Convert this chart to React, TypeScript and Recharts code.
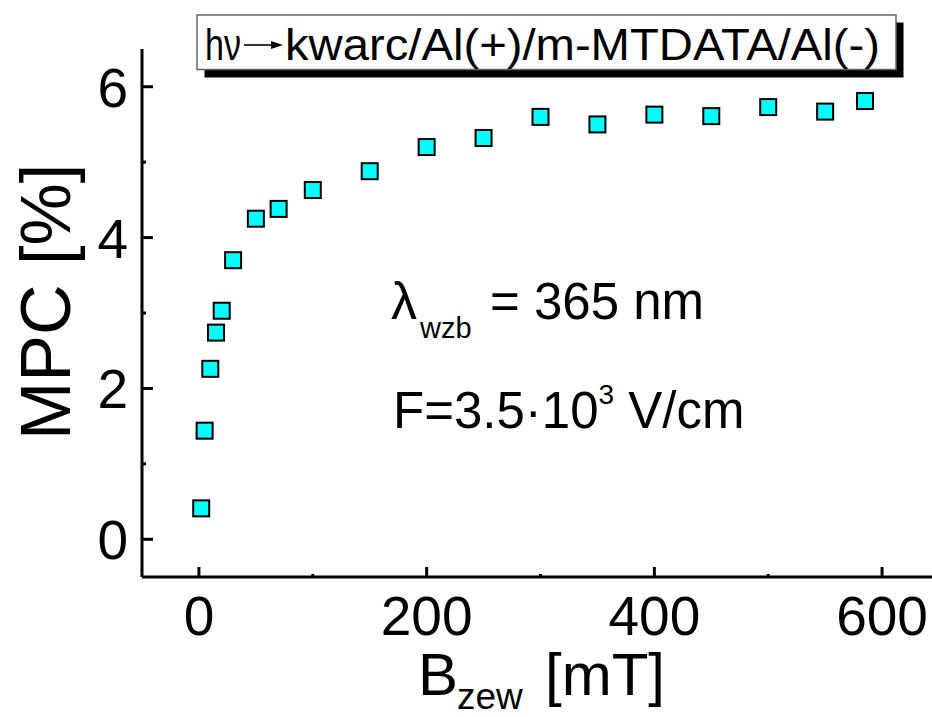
import { ScatterChart, Scatter, XAxis, YAxis } from "recharts";

// magnetic field [mT] and magnetophotoconductivity [%]
const fieldValues = [2, 5, 10, 15, 20, 30, 50, 70, 100, 150, 200, 250, 300, 350, 400, 450, 500, 550, 585];
const mpcValues = [0.41, 1.44, 2.26, 2.74, 3.03, 3.7, 4.25, 4.38, 4.63, 4.88, 5.2, 5.32, 5.6, 5.5, 5.63, 5.61, 5.73, 5.67, 5.81];

const xTicks = [0, 100, 200, 300, 400, 500, 600];
const yTicks = [0, 1, 2, 3, 4, 5, 6];
const xMajor = [0, 200, 400, 600];
const yMajor = [0, 2, 4, 6];

const data = fieldValues.map((x, i) => ({ x, y: mpcValues[i] }));

const FONT = "'Liberation Sans', Arial, sans-serif";

function XTick(props: any) {
  const { x, y, payload } = props;
  const major = xMajor.includes(payload.value);
  return (
    <g>
      <line x1={x} x2={x} y1={y} y2={y - (major ? 10 : 3)} stroke="#000" strokeWidth={3} />
      {major && (
        <text x={x} y={y + 58} textAnchor="middle" fontSize={55} fontFamily={FONT} fill="#000">
          {payload.value}
        </text>
      )}
    </g>
  );
}

function YTick(props: any) {
  const { x, y, payload } = props;
  const major = yMajor.includes(payload.value);
  return (
    <g>
      <line x1={x} x2={x + (major ? 11 : 4)} y1={y} y2={y} stroke="#000" strokeWidth={3} />
      {major && (
        <text x={x - 14} y={y + 20} textAnchor="end" fontSize={55} fontFamily={FONT} fill="#000">
          {payload.value}
        </text>
      )}
    </g>
  );
}

function SquareDot(props: any) {
  const { cx, cy } = props;
  if (cx == null || cy == null) return null;
  return <rect x={cx - 8} y={cy - 8} width={16} height={16} fill="#00FFFF" stroke="#000" strokeWidth={2} />;
}

function Overlay() {
  return (
    <svg width={932} height={717} style={{ position: "absolute", left: 0, top: 0, pointerEvents: "none" }}>
      {/* legend box with shadow */}
      <rect x={204.5} y={22.5} width={699} height={55} fill="#000" />
      <rect x={197} y={15} width={699} height={54.5} fill="#fff" stroke="#666" strokeWidth={1.5} />
      <text x={205} y={60} fontSize={44} fontFamily={FONT} fill="#000" textLength={36} lengthAdjust="spacingAndGlyphs">
        hν
      </text>
      <line x1={244} x2={274} y1={45} y2={45} stroke="#000" strokeWidth={1.6} />
      <polygon points="271,41 283,45 271,49" fill="#000" />
      <text x={285} y={60} fontSize={44} fontFamily={FONT} fill="#000" textLength={595} lengthAdjust="spacingAndGlyphs">
        kwarc/Al(+)/m-MTDATA/Al(-)
      </text>

      {/* annotations */}
      <text x={391} y={319} fontSize={52} fontFamily={FONT} fill="#000">λ</text>
      <text x={420} y={338} fontSize={29} fontFamily={FONT} fill="#000">wzb</text>
      <text x={490} y={319} fontSize={51} fontFamily={FONT} fill="#000">= 365 nm</text>
      <text x={393} y={428} fontSize={51} fontFamily={FONT} fill="#000">
        F=3.5·10
        <tspan fontSize={28} dy={-24}>3</tspan>
        <tspan dy={24}> V/cm</tspan>
      </text>

      {/* axis titles */}
      <text
        x={46}
        y={302}
        transform="rotate(-90 46 302)"
        textAnchor="middle"
        dominantBaseline="central"
        fontSize={70}
        fontFamily={FONT}
        fill="#000"
      >
        MPC [%]
      </text>
      <text x={418} y={695} fontSize={60} fontFamily={FONT} fill="#000">B</text>
      <text x={457} y={709} fontSize={37} fontFamily={FONT} fill="#000">zew</text>
      <text x={545} y={695} fontSize={60} fontFamily={FONT} fill="#000">[mT]</text>
    </svg>
  );
}

export default function App() {
  return (
    <div style={{ position: "fixed", left: 0, top: 0, width: 932, height: 717, overflow: "hidden", background: "#fff" }}>
      <ScatterChart width={950} height={717} margin={{ top: 49, right: 11, bottom: 0, left: 0 }}>
        <XAxis
          type="number"
          dataKey="x"
          domain={[-50, 650]}
          ticks={xTicks}
          height={140}
          tickLine={false}
          tickSize={0}
          tickMargin={0}
          tick={<XTick />}
          axisLine={{ stroke: "#000", strokeWidth: 3 }}
          allowDataOverflow
        />
        <XAxis
          xAxisId="top"
          orientation="top"
          type="number"
          domain={[-50, 650]}
          height={0}
          tick={false}
          tickLine={false}
          axisLine={{ stroke: "#000", strokeWidth: 3 }}
        />
        <YAxis
          type="number"
          dataKey="y"
          domain={[-0.5, 6.5]}
          ticks={yTicks}
          width={142}
          tickLine={false}
          tickSize={0}
          tickMargin={0}
          tick={<YTick />}
          axisLine={{ stroke: "#000", strokeWidth: 3 }}
          allowDataOverflow
        />
        <Scatter data={data} shape={<SquareDot />} isAnimationActive={false} />
      </ScatterChart>
      <Overlay />
    </div>
  );
}
